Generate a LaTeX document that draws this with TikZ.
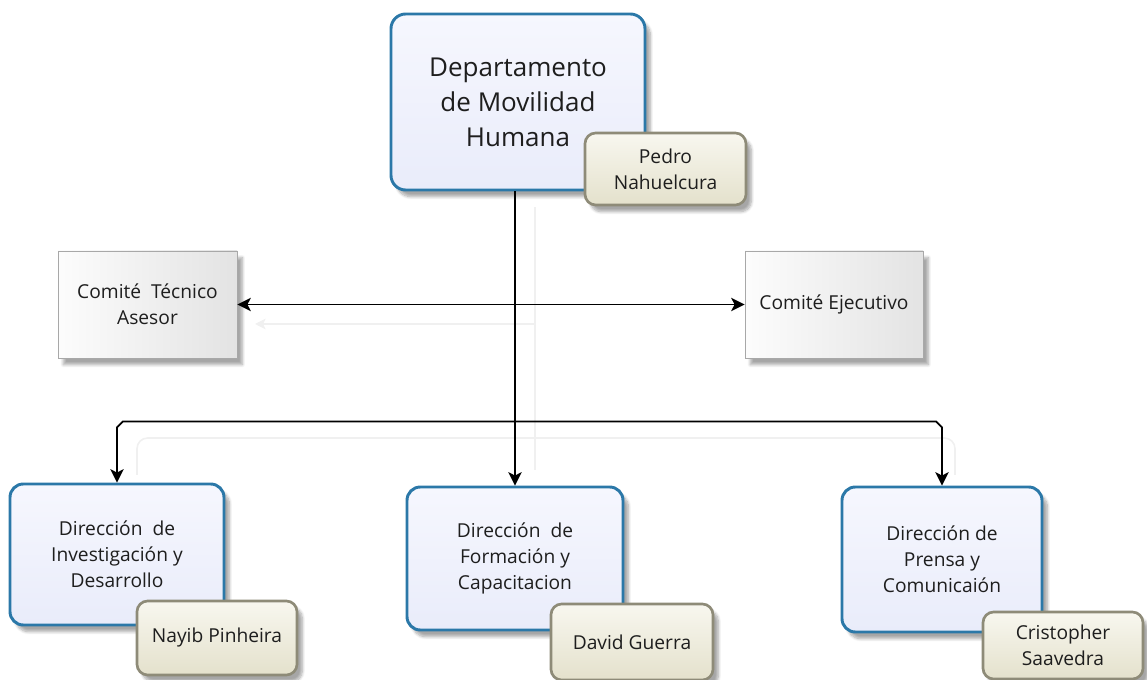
\documentclass[tikz,border=0pt]{standalone}
\usepackage{fontspec}
\setmainfont{Open Sans}
\usetikzlibrary{arrows.meta,shadows.blur,calc}
\definecolor{bborder}{HTML}{2B78A8}
\definecolor{bfillA}{HTML}{F6F7FE}
\definecolor{bfillB}{HTML}{E9ECFA}
\definecolor{nborder}{HTML}{8E8B78}
\definecolor{nfillA}{HTML}{F8F7EF}
\definecolor{nfillB}{HTML}{E4E1CC}
\definecolor{gborder}{HTML}{A8A8A8}
\definecolor{ghost}{HTML}{F0F0F0}
\definecolor{txt}{HTML}{1E1E1E}
\tikzset{
  mytip/.tip={Stealth[length=10pt,width=10pt,inset=2.5pt]},
  every node/.style={text=txt, align=center, inner sep=0pt},
  shad/.style={blur shadow={shadow xshift=4pt, shadow yshift=-5pt, shadow blur steps=8, shadow opacity=35}},
  mainbox/.style={shad, draw=bborder, line width=2.2pt, rounded corners=11pt, top color=bfillA, bottom color=bfillB, font=\fontsize{19.5}{26.3}\selectfont\color{gray!95!black}},
  unitbox/.style={shad, draw=bborder, line width=2.2pt, rounded corners=10pt, top color=bfillA, bottom color=bfillB, font=\fontsize{14.4}{19.5}\selectfont},
  namebox/.style={shad, draw=nborder, line width=2pt, rounded corners=8pt, top color=nfillA, bottom color=nfillB, font=\fontsize{14.4}{19.5}\selectfont},
  combox/.style={shad, draw=gborder, line width=0.7pt, left color=gray!2, right color=gray!22, font=\fontsize{14.4}{19.5}\selectfont},
  conn/.style={line width=1.3pt, black, -{mytip}},
  ghostline/.style={ghost, line width=1.2pt}
}
\begin{document}
\begin{tikzpicture}[x=0.75pt,y=-0.75pt]
\useasboundingbox (0,0) rectangle (1147,680);
% faint ghost connectors
\draw[ghostline] (535,207) -- (535,470);
\draw[ghostline,-{Stealth[length=8pt,width=8pt,inset=2pt]}] (535,324) -- (255,324);
\draw[ghostline,rounded corners=8pt] (137,475) -- (137,438) -- (955,438) -- (955,475);
% nodes
\node[mainbox, minimum width=190.5pt, minimum height=132pt] (top) at (518,102) {Departamento\\de Movilidad\\Humana};
\node[namebox, minimum width=120.75pt, minimum height=54pt] (pedro) at (665.5,169) {Pedro\\Nahuelcura};
\node[combox, minimum width=134.25pt, minimum height=80.25pt] (cta) at (147.5,304.5) {Comité~~Técnico\\Asesor};
\node[combox, minimum width=133.5pt, minimum height=80.25pt] (ce) at (834,304.5) {Comité Ejecutivo};
\node[unitbox, minimum width=160.5pt, minimum height=105.75pt] (dinv) at (117,554.5) {Dirección~~de\\Investigación y\\Desarrollo};
\node[unitbox, minimum width=162pt, minimum height=107.25pt] (dform) at (515,558.5) {Dirección~~de\\Formación y\\Capacitacion};
\node[unitbox, minimum width=150pt, minimum height=108.75pt] (dpren) at (942,559.5) {Dirección de\\Prensa y\\Comunicaión};
\node[namebox, minimum width=120pt, minimum height=55.5pt] (nayib) at (217,638) {Nayib Pinheira};
\node[namebox, minimum width=121.5pt, minimum height=57pt] (david) at (632,642) {David Guerra};
\node[namebox, minimum width=120pt, minimum height=50.25pt] (cris) at (1063,645.5) {Cristopher\\Saavedra};
% connectors
\coordinate (j) at (top.south -| dform.north);
\coordinate (hb) at ($(j)+(0,230)$);
\draw[conn] (j) -- (dform.north);
\draw[line width=1.3pt, black, {mytip}-{mytip}] (cta.east) -- (ce.west);
\draw[conn] (hb) -- ($(hb -| dinv.north)+(6,0)$) -- ($(hb -| dinv.north)+(0,6)$) -- (dinv.north);
\draw[conn] (hb) -- ($(hb -| dpren.north)+(-6,0)$) -- ($(hb -| dpren.north)+(0,6)$) -- (dpren.north);
\end{tikzpicture}
\end{document}
